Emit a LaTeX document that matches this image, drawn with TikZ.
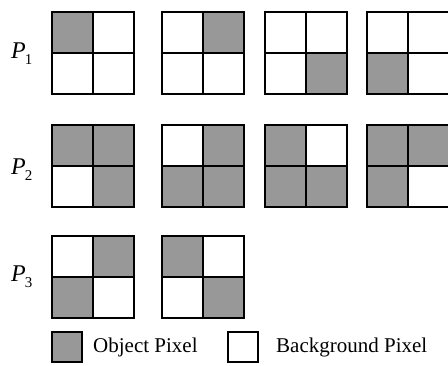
\documentclass[tikz,border=0pt]{standalone}
\usepackage{fontspec}
\setmainfont{Liberation Serif}
\definecolor{objgray}{RGB}{152,152,152}
\newcommand{\pixgrid}[7]{%
  \node[#4] (#1a) at (#2+20.5,#3+20.5) {};
  \node[#5] (#1b) at (#2+61.5,#3+20.5) {};
  \node[#6] (#1c) at (#2+20.5,#3+61.5) {};
  \node[#7] (#1d) at (#2+61.5,#3+61.5) {};
}
\begin{document}
\begin{tikzpicture}[x=1pt,y=-1pt,
  cell/.style={draw=black, line width=1.8pt, rectangle, minimum size=41pt, inner sep=0pt},
  obj/.style={cell, fill=objgray},
  bg/.style={cell, fill=white},
  key/.style={draw=black, line width=1.6pt, rectangle, minimum size=30pt, inner sep=0pt},
  lbl/.style={font=\fontsize{21}{24}\selectfont, inner sep=0pt, anchor=base west},
  plbl/.style={font=\fontsize{24}{26}\selectfont, inner sep=0pt, anchor=base west}]
\useasboundingbox (0,0) rectangle (448,365);
% row 1
\pixgrid{ga}{52}{12}{obj}{bg}{bg}{bg}
\pixgrid{gb}{162}{12}{bg}{obj}{bg}{bg}
\pixgrid{gc}{265}{12}{bg}{bg}{bg}{obj}
\pixgrid{gd}{367}{12}{bg}{bg}{obj}{bg}
% row 2
\pixgrid{ge}{52}{125}{obj}{obj}{bg}{obj}
\pixgrid{gf}{162}{125}{bg}{obj}{obj}{obj}
\pixgrid{gg}{265}{125}{obj}{bg}{obj}{obj}
\pixgrid{gh}{367}{125}{obj}{obj}{obj}{bg}
% row 3
\pixgrid{gi}{52}{236}{bg}{obj}{obj}{bg}
\pixgrid{gj}{162}{236}{obj}{bg}{bg}{obj}
% row labels
\node[plbl] (p1) at (11,58) {\textit{P}\kern-1pt\raisebox{-0.25em}{\fontsize{15}{15}\selectfont 1}};
\node[plbl] (p2) at (11,174) {\textit{P}\kern-1pt\raisebox{-0.25em}{\fontsize{15}{15}\selectfont 2}};
\node[plbl] (p3) at (11,281) {\textit{P}\kern-1pt\raisebox{-0.25em}{\fontsize{15}{15}\selectfont 3}};
% legend
\node[key, fill=objgray] (kobj) at (67,347) {};
\node[lbl] (tobj) at (93,352) {Object Pixel};
\node[key, fill=white] (kbg) at (243,347) {};
\node[lbl] (tbg) at (276,352) {Background Pixel};
\end{tikzpicture}
\end{document}
